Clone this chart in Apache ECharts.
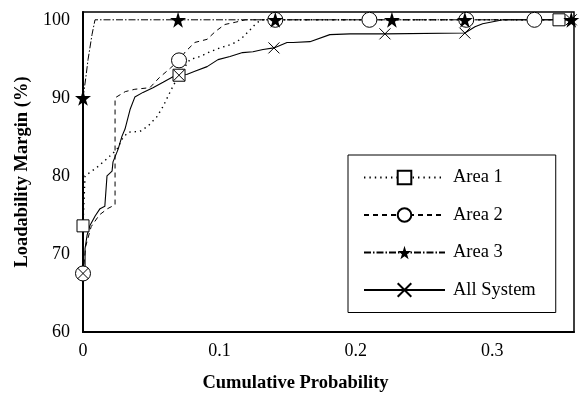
<!DOCTYPE html>
<html>
<head>
<meta charset="utf-8">
<script src="https://cdn.jsdelivr.net/npm/echarts@6/dist/echarts.min.js"></script>
<style>
  html, body { margin: 0; padding: 0; background: #fff; }
  #chart { width: 583px; height: 398px; }
</style>
</head>
<body>
<div id="chart"></div>
<script>
// cumulative probability (x) and loadability margin in % (y)
var area1Prob = [0, 0.0015, 0.0103, 0.0176, 0.0249, 0.0286, 0.033, 0.0418, 0.0477, 0.0543, 0.0587, 0.0623, 0.066, 0.0704,
  0.0784, 0.0858, 0.0931, 0.1004, 0.1078, 0.1129, 0.1173, 0.1224, 0.1261, 0.1305, 0.349, 0.36];
var area1Margin = [73.6, 80.0, 81.1, 82.2, 83.4, 84.7, 85.6, 85.7, 86.4, 87.6, 88.9, 90.2, 91.5, 92.9,
  94.9, 95.3, 95.9, 96.4, 96.8, 97.2, 97.8, 98.7, 99.4, 100, 100, 100];
var area1Marks = [0, 13, 24];

var area2Prob = [0, 0.002, 0.006, 0.012, 0.018, 0.0235, 0.0235, 0.031, 0.038, 0.049, 0.056, 0.064, 0.0704,
  0.075, 0.082, 0.091, 0.097, 0.104, 0.112, 0.119, 0.141, 0.21, 0.281, 0.331, 0.36];
var area2Margin = [67.5, 71, 73.5, 75, 75.8, 76.3, 90.0, 90.8, 91.1, 91.3, 92.6, 93.8, 94.8,
  95.9, 97.1, 97.5, 98.5, 99.4, 99.7, 100, 100, 100, 100, 100, 100];
var area2Marks = [0, 12, 20, 21, 22, 23];

var area3Prob = [0, 0.002, 0.0037, 0.0066, 0.0088, 0.0697, 0.141, 0.2265, 0.28, 0.358];
var area3Margin = [90, 92.5, 94.9, 98.1, 100, 100, 100, 100, 100, 100];
var area3Marks = [0, 5, 6, 7, 8, 9];

var allProb = [0, 0.0015, 0.0015, 0.003, 0.005, 0.009, 0.0125, 0.016, 0.0176, 0.0213, 0.022, 0.0257, 0.0286, 0.0308,
  0.0345, 0.038, 0.044, 0.0513, 0.0587, 0.066, 0.0704, 0.076, 0.082, 0.091, 0.099, 0.1078, 0.117, 0.1246, 0.132,
  0.14, 0.1496, 0.154, 0.1664, 0.181, 0.1958, 0.2214, 0.28, 0.2874, 0.293, 0.308, 0.358];
var allMargin = [67.5, 68.5, 70.7, 72.4, 73.6, 74.9, 75.8, 76.1, 80.0, 80.6, 81.8, 83.4, 85.1, 86.0,
  88.5, 90.1, 90.7, 91.3, 92.0, 92.7, 92.9, 93.0, 93.4, 94.0, 94.9, 95.3, 95.8, 95.9, 96.2,
  96.4, 97.1, 97.1, 97.2, 98.1, 98.2, 98.2, 98.3, 99.1, 99.5, 100, 100];
var allMarks = [0, 20, 29, 35, 36, 40];

var xTicks = [0, 0.1, 0.2, 0.3];
var yTicks = [60, 70, 80, 90, 100];
var seriesNames = ['Area 1', 'Area 2', 'Area 3', 'All System'];

var FONT = 'Liberation Serif';
var STAR = 'path://M50,0L61,35L98,35L68,57L79,91L50,70L21,91L32,57L2,35L39,35Z';
var CROSS = 'path://M0,0L10,10M10,0L0,10';

// only some points carry a marker, the rest are plain line
function buildData(xs, ys, marks) {
  var out = [];
  for (var i = 0; i < xs.length; i++) {
    if (marks.indexOf(i) >= 0) {
      out.push({ value: [xs[i], ys[i]] });
    } else {
      out.push({ value: [xs[i], ys[i]], symbol: 'none' });
    }
  }
  return out;
}

function hasTick(list, v) {
  for (var i = 0; i < list.length; i++) {
    if (Math.abs(list[i] - v) < 1e-9) return true;
  }
  return false;
}

var myChart = echarts.init(document.getElementById('chart'));
var option = {
  animation: false,
  backgroundColor: '#fff',
  textStyle: { fontFamily: FONT },
  grid: {
    left: 83, top: 12, right: 9, bottom: 64,
    show: true, borderColor: '#000', borderWidth: 1.5
  },
  legend: {
    orient: 'vertical',
    left: 348, top: 155,
    padding: [13, 20, 13, 15],
    borderColor: '#000', borderWidth: 1,
    backgroundColor: '#fff',
    itemWidth: 81, itemHeight: 17, itemGap: 18.5,
    textStyle: { fontFamily: FONT, fontSize: 18.5, color: '#000', padding: [0, 0, 0, 3] },
    data: seriesNames
  },
  xAxis: {
    type: 'value',
    min: 0, max: 0.36, interval: 0.1,
    name: 'Cumulative Probability',
    nameLocation: 'middle',
    nameGap: 42,
    nameTextStyle: { fontFamily: FONT, fontSize: 18.5, fontWeight: 'bold', color: '#000', padding: [0, 66, 0, 0] },
    axisLine: { show: true, lineStyle: { color: '#000', width: 2 } },
    axisTick: { show: false },
    splitLine: { show: false },
    axisLabel: {
      fontFamily: FONT, fontSize: 18, color: '#000', margin: 10,
      formatter: function (v) {
        if (!hasTick(xTicks, v)) return '';
        return v === 0 ? '0' : v.toFixed(1);
      }
    }
  },
  yAxis: {
    type: 'value',
    min: 60, max: 101, interval: 10,
    name: 'Loadability Margin (%)',
    nameLocation: 'middle',
    nameGap: 50,
    nameTextStyle: { fontFamily: FONT, fontSize: 18.5, fontWeight: 'bold', color: '#000' },
    axisLine: { show: true, lineStyle: { color: '#000', width: 2 } },
    axisTick: { show: false },
    splitLine: { show: false },
    axisLabel: {
      fontFamily: FONT, fontSize: 18, color: '#000', margin: 13,
      formatter: function (v) {
        return hasTick(yTicks, v) ? String(v) : '';
      }
    }
  },
  series: [
    {
      name: 'Area 1', type: 'line',
      symbol: 'rect', symbolSize: 12, showAllSymbol: true,
      itemStyle: { color: '#fff', borderColor: '#000', borderWidth: 1 },
      lineStyle: { color: '#000', width: 1.4, type: [1.4, 4] },
      data: buildData(area1Prob, area1Margin, area1Marks)
    },
    {
      name: 'Area 2', type: 'line',
      symbol: 'circle', symbolSize: 15, showAllSymbol: true,
      itemStyle: { color: '#fff', borderColor: '#000', borderWidth: 1 },
      lineStyle: { color: '#000', width: 1, type: [5, 4] },
      data: buildData(area2Prob, area2Margin, area2Marks)
    },
    {
      name: 'Area 3', type: 'line',
      symbol: STAR, symbolSize: 16, showAllSymbol: true,
      itemStyle: { color: '#000', borderColor: '#000', borderWidth: 0 },
      lineStyle: { color: '#000', width: 1, type: [7, 2, 1.5, 2] },
      data: buildData(area3Prob, area3Margin, area3Marks)
    },
    {
      name: 'All System', type: 'line',
      symbol: CROSS, symbolSize: 11, showAllSymbol: true,
      itemStyle: { color: '#000', borderColor: '#000', borderWidth: 1 },
      lineStyle: { color: '#000', width: 1.1, type: 'solid' },
      data: buildData(allProb, allMargin, allMarks)
    }
  ]
};
myChart.setOption(option, true);
</script>
</body>
</html>
